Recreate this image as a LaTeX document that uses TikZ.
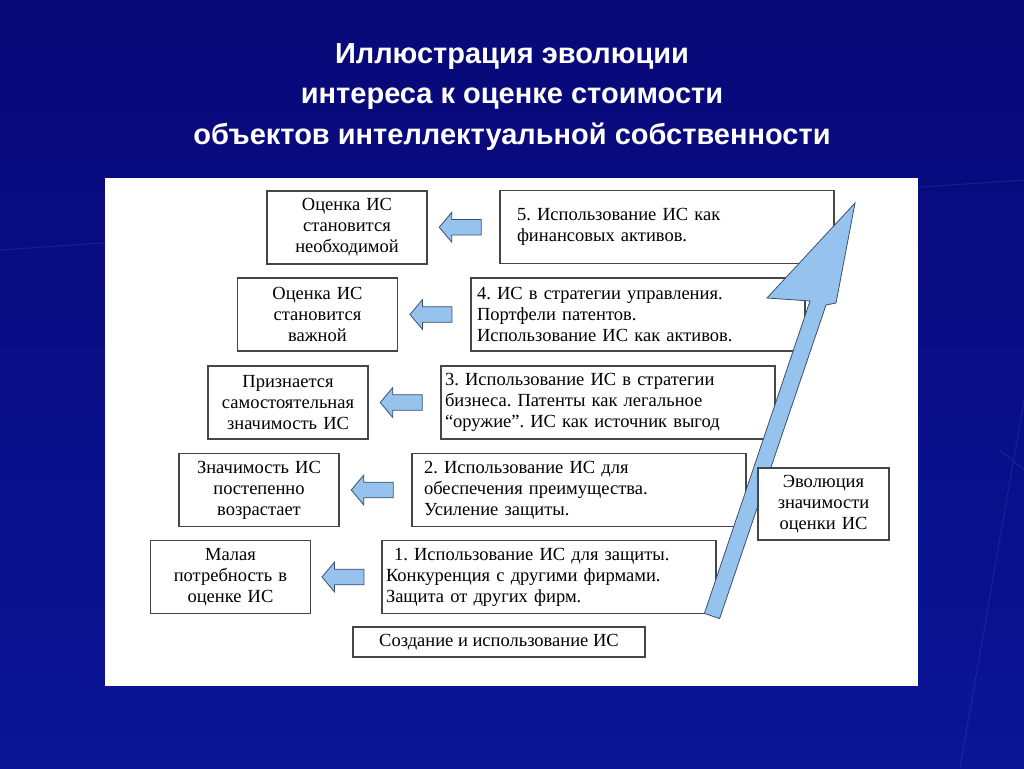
\documentclass[tikz,border=0pt]{standalone}
\usepackage{fontspec}
\setmainfont{Liberation Serif}
\newfontfamily\titlefont{Liberation Sans}
\usetikzlibrary{shapes.arrows,calc}
\definecolor{bgtop}{RGB}{8,8,120}
\definecolor{bgbot}{RGB}{10,20,150}
\definecolor{arrblue}{RGB}{150,195,238}
\definecolor{arrline}{RGB}{60,80,110}
\definecolor{boxline}{RGB}{70,70,70}
\frenchspacing
\begin{document}
\begin{tikzpicture}[x=1pt,y=-1pt,
  box/.style={draw=boxline,line width=1.4pt,fill=white,minimum height=73pt,font=\fontsize{18.5}{21}\selectfont,inner ysep=2pt},
  lbox/.style={box,minimum width=160pt,text width=158pt,inner xsep=1pt,align=center},
  rbox/.style={box,minimum width=334pt,align=left},
  larr/.style={single arrow,shape border rotate=180,draw=arrline,line width=0.8pt,fill=arrblue,minimum height=42pt,minimum width=30pt,single arrow head extend=5pt,single arrow tip angle=100,inner sep=5pt}]
\useasboundingbox (0,0) rectangle (1024,768);
\shade[top color=bgtop,bottom color=bgbot] (0,0) rectangle (1024,768);
\draw[white,opacity=0.08,line width=1pt] (0,250) -- (1024,180) (960,768) -- (1024,400) (1000,450) -- (1024,470);
\node[text=white,align=center,font=\titlefont\bfseries\fontsize{29}{40.5}\selectfont] (title) at (512,97) {Иллюстрация эволюции\\интереса к оценке стоимости\\объектов интеллектуальной собственности};
\fill[white] (105,178) rectangle (918,686);
% left boxes
\node[lbox] (l5) at (347,227.5) {Оценка ИС\\становится\\необходимой};
\node[lbox] (l4) at (317.5,314.5) {Оценка ИС\\становится\\важной};
\node[lbox] (l3) at (288,402.5) {Признается\\самостоятельная\\значимость ИС};
\node[lbox] (l2) at (259,490) {Значимость ИС\\постепенно\\возрастает};
\node[lbox] (l1) at (230.5,577) {Малая\\потребность в\\оценке ИС};
% right boxes
\node[rbox,text width=300pt,inner xsep=17pt] (r5) at (667,227) {5. Использование ИС как\\финансовых активов.};
\node[rbox,text width=322pt,inner xsep=6pt] (r4) at (638,314.5) {4. ИС в стратегии управления.\\Портфели патентов.\\Использование ИС как активов.};
\node[rbox,text width=326pt,inner xsep=4pt] (r3) at (608,402.5) {3. Использование ИС в стратегии\\бизнеса. Патенты как легальное\\“оружие”. ИС как источник выгод};
\node[rbox,text width=310pt,inner xsep=12pt] (r2) at (579,490) {2. Использование ИС для\\обеспечения преимущества.\\Усиление защиты.};
\node[rbox,text width=326pt,inner xsep=4pt] (r1) at (549,577) {\hspace*{8pt}1. Использование ИС для защиты.\\Конкуренция с другими фирмами.\\Защита от других фирм.};
\node[draw=boxline,line width=1.4pt,fill=white,font=\fontsize{18.5}{21}\selectfont,minimum width=292pt,minimum height=30pt,inner sep=2pt] (base) at (499,642) {Создание и использование ИС};
% small arrows
\node[larr] (a5) at ($(l5.east)!0.5!(r5.west)$) {};
\node[larr] (a4) at ($(l4.east)!0.5!(r4.west)$) {};
\node[larr] (a3) at ($(l3.east)!0.5!(r3.west)$) {};
\node[larr] (a2) at ($(l2.east)!0.5!(r2.west)$) {};
\node[larr] (a1) at ($(l1.east)!0.5!(r1.west)$) {};
% big arrow
\draw[draw=arrline,line width=0.8pt,fill=arrblue] (704.4,613.4) -- (810,301) -- (767,298) -- (855,203) -- (836,303) -- (826,305) -- (719.6,618.6) -- cycle;
\node[box,minimum width=131pt,minimum height=72pt,text width=129pt,inner xsep=1pt,align=center] (evo) at (823.5,504) {Эволюция\\значимости\\оценки ИС};
\end{tikzpicture}
\end{document}
